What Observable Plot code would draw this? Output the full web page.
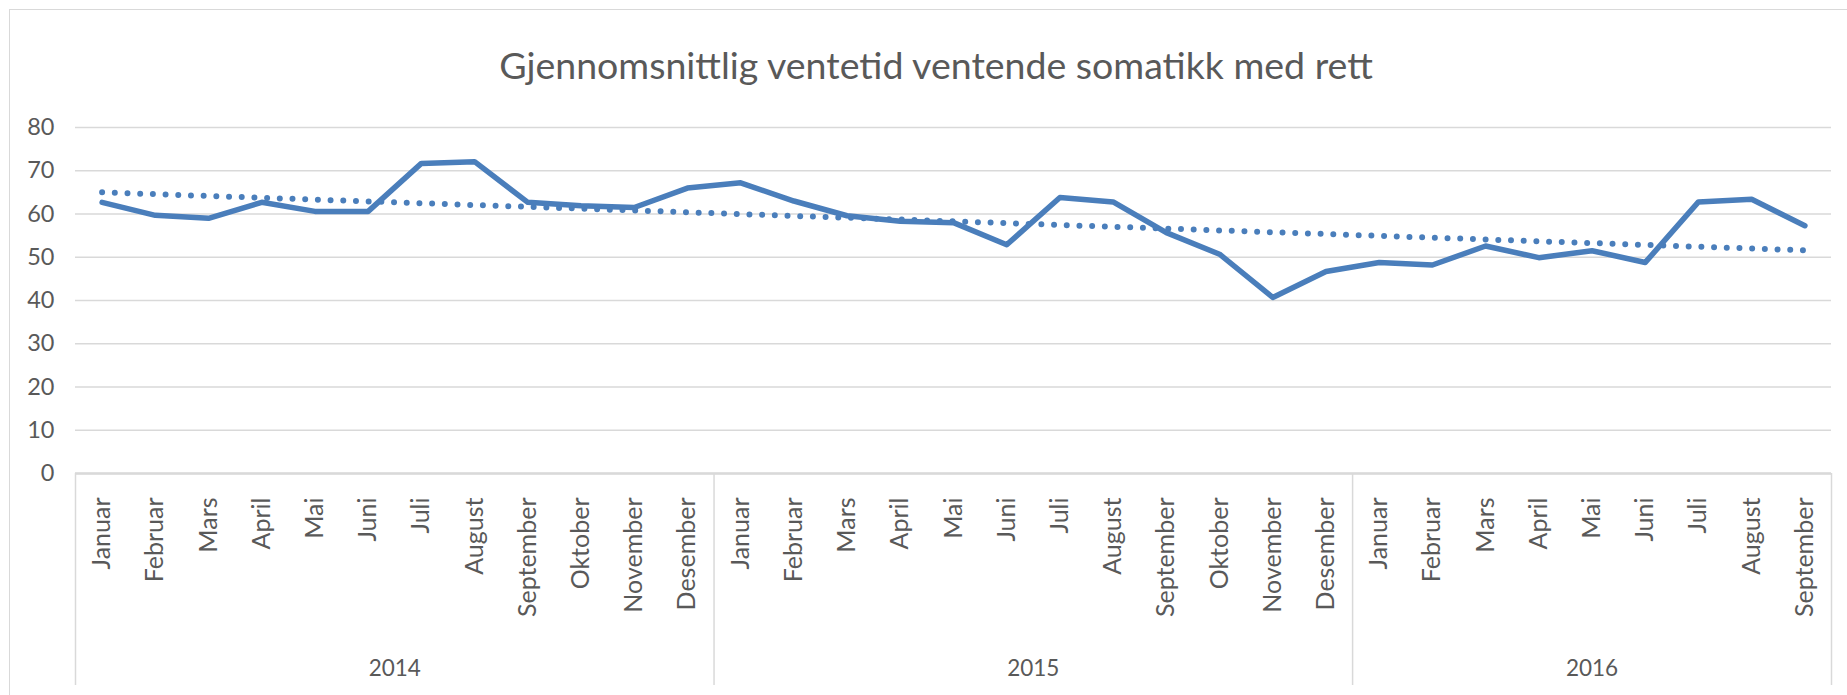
<!DOCTYPE html>
<html><head><meta charset="utf-8">
<script src="https://cdn.jsdelivr.net/npm/d3@7"></script>
<script src="https://cdn.jsdelivr.net/npm/@observablehq/plot@0.6"></script>
<style>
html,body{margin:0;padding:0;background:#fff;overflow:hidden;width:1847px;height:695px;}
#frame{position:absolute;left:9px;top:9px;width:1900px;height:800px;border:1.5px solid #d9d9d9;box-sizing:border-box;pointer-events:none}
#title{height:100px;position:relative;font-family:Lato,sans-serif;font-size:37.5px;color:#595959;}
#title span{position:absolute;left:0;width:1872px;text-align:center;top:46px;line-height:1;white-space:nowrap;}
#chart svg{display:block}
</style></head><body>
<div id="title"><span id="tt">Gjennomsnittlig ventetid ventende somatikk med rett</span></div>
<div id="chart"></div>
<div id="frame"></div>
<script>
const monthNames = [
  "Januar","Februar","Mars","April","Mai","Juni","Juli","August","September","Oktober","November","Desember",
  "Januar","Februar","Mars","April","Mai","Juni","Juli","August","September","Oktober","November","Desember",
  "Januar","Februar","Mars","April","Mai","Juni","Juli","August","September"
];
const years = ["2014", "2015", "2016"];
const monthsPerYear = [12, 12, 9];
const values = [
  62.7, 59.7, 59.0, 62.7, 60.6, 60.6, 71.7, 72.1, 62.7, 61.9, 61.5, 66.0,
  67.2, 63.0, 59.6, 58.3, 58.0, 52.9, 63.8, 62.8, 55.7, 50.7, 40.7, 46.7,
  48.8, 48.2, 52.6, 49.9, 51.5, 48.8, 62.8, 63.4, 57.3
];
const yTicks = [0, 10, 20, 30, 40, 50, 60, 70, 80];

const data = values.map((v, i) => ({i, v}));
const idx = values.map((_, i) => i);
const bounds = [-0.5];
const yearCenters = [];
const yearByCenter = new Map();
let start = 0;
monthsPerYear.forEach((n, k) => {
  const c = start + (n - 1) / 2;
  yearCenters.push(c);
  yearByCenter.set(c, years[k]);
  start += n;
  bounds.push(start - 0.5);
});

const blue = "#4a7ebb";
const chart = Plot.plot({
  width: 1847, height: 595,
  marginTop: 27, marginBottom: 222, marginLeft: 75, marginRight: 16,
  style: {fontFamily: "Lato, sans-serif", color: "#595959", background: "white", overflow: "visible"},
  x: {domain: [-0.5, values.length - 0.5], axis: null, label: null},
  y: {domain: [0, 80], axis: null, label: null},
  marks: [
    Plot.gridY(yTicks, {stroke: "#d9d9d9", strokeOpacity: 1, strokeWidth: 1.5}),
    Plot.axisY(yTicks, {tickSize: 0, tickPadding: 21, fontSize: 23.5, label: null}),
    Plot.ruleY([0], {stroke: "#d9d9d9", strokeWidth: 2.5}),
    Plot.axisX(bounds, {tickSize: 212, tickFormat: () => "", stroke: "#d9d9d9", strokeWidth: 1.5, label: null}),
    Plot.axisX(idx, {tickSize: 0, tickPadding: 24, tickRotate: -90, tickFormat: i => monthNames[i], fontSize: 25, label: null}),
    Plot.axisX(yearCenters, {tickSize: 0, tickPadding: 187, tickFormat: d => yearByCenter.get(d), fontSize: 22.5, label: null}),
    Plot.linearRegressionY(data, {x: "i", y: "v", stroke: blue, strokeWidth: 6, strokeDasharray: "0 12.7", strokeLinecap: "round", ci: 0}),
    Plot.line(data, {x: "i", y: "v", stroke: blue, strokeWidth: 5.5, strokeLinejoin: "round"})
  ]
});
document.getElementById("chart").appendChild(chart);
</script>
</body></html>
